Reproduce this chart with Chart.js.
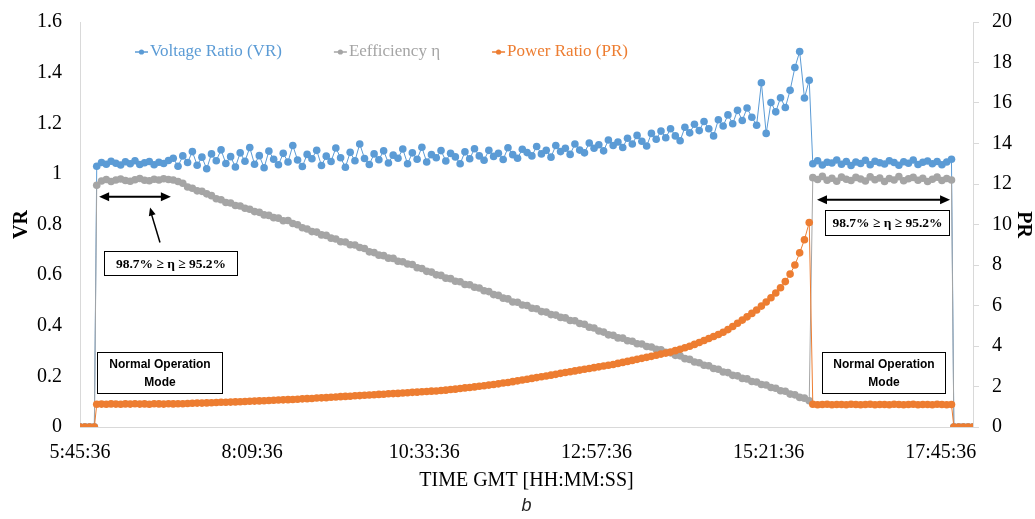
<!DOCTYPE html>
<html>
<head>
<meta charset="utf-8">
<script src="https://cdn.jsdelivr.net/npm/chart.js@4/dist/chart.umd.min.js"></script>
<style>
  html, body { margin: 0; padding: 0; background: #fff; }
  #wrap { width: 1035px; height: 519px; }
</style>
</head>
<body>
<div id="wrap"><canvas id="chart"></canvas></div>
<script>
// time axis is in minutes after 5:45:36
var tickMinutes = [0, 144, 288, 432, 576, 720];
var tickLabels = ['5:45:36', '8:09:36', '10:33:36', '12:57:36', '15:21:36', '17:45:36'];
var vrTicks = [0, 0.2, 0.4, 0.6, 0.8, 1, 1.2, 1.4, 1.6];

// sampling: zeros before the test, the test run, normal mode, zeros after
var sampleStep = 4;
var leadTimes = [0, 4, 8, 12];
var testStart = 14;
var normalStart = 613;
var tailTimes = [731, 735, 739, 743, 747];

var vrTest = [1.030,
  1.045,1.038,1.050,1.042,1.035,1.048,1.040,1.052,1.037,1.044,1.049,1.036,1.046,1.041,1.053,
  1.062,1.030,1.071,1.045,1.088,1.034,1.066,1.020,1.079,1.052,1.095,1.041,1.068,1.027,
  1.083,1.050,1.104,1.038,1.072,1.024,1.090,1.058,1.036,1.081,1.047,1.112,1.055,1.029,1.077,1.060,1.093,1.033,1.070,1.049,
  1.102,1.064,1.026,1.085,1.052,1.118,1.061,1.037,1.079,1.056,1.091,1.043,1.074,1.062,1.098,1.040,1.083,1.058,1.105,1.047,
  1.076,1.064,1.092,1.051,1.081,1.067,1.040,1.087,1.060,1.099,1.071,1.054,1.093,1.069,1.081,1.057,1.103,1.076,1.062,1.097,
  1.084,1.071,1.108,1.079,1.093,1.066,1.112,1.088,1.101,1.077,1.118,1.094,1.083,1.122,1.101,1.115,1.091,1.134,1.112,1.126,
  1.104,1.141,1.118,1.152,1.129,1.110,1.160,1.137,1.169,1.143,1.178,1.150,1.131,1.184,1.162,1.196,1.171,1.207,1.178,1.150,
  1.214,1.189,1.233,1.198,1.251,1.211,1.260,1.224,1.192,1.360,1.160,1.282,1.245,1.301,1.262,1.330,1.420,1.483,1.300,1.370];

var effTest = [0.955,
  0.972,0.978,0.970,0.976,0.980,0.974,0.971,0.977,0.982,0.975,0.973,0.979,0.976,0.981,0.978,
  0.976,0.970,0.963,0.948,0.943,0.933,0.931,0.921,0.914,0.902,0.898,0.887,0.885,0.875,
  0.873,0.864,0.860,0.851,0.848,0.838,0.836,0.827,0.825,0.815,0.816,0.804,0.799,0.787,0.782,0.772,0.770,0.759,0.757,0.746,
  0.743,0.732,0.731,0.720,0.719,0.709,0.705,0.692,0.689,0.679,0.677,0.667,0.666,0.655,0.653,0.644,0.642,0.629,0.626,0.615,
  0.612,0.601,0.599,0.588,0.586,0.576,0.574,0.563,0.562,0.552,0.549,0.538,0.535,0.523,0.520,0.509,0.506,0.494,0.493,0.482,
  0.480,0.469,0.467,0.456,0.454,0.444,0.442,0.433,0.431,0.421,0.420,0.409,0.406,0.394,0.391,0.379,0.375,0.364,0.362,0.352,
  0.351,0.341,0.339,0.329,0.328,0.318,0.316,0.307,0.305,0.295,0.293,0.283,0.281,0.270,0.267,0.257,0.254,0.244,0.242,0.231,
  0.228,0.217,0.215,0.204,0.202,0.192,0.190,0.180,0.178,0.168,0.166,0.156,0.153,0.143,0.141,0.130,0.127,0.117,0.114,0.104];

var prTest = [1.12,
  1.13,1.12,1.14,1.13,1.12,1.14,1.13,1.15,1.13,1.14,1.12,1.15,1.14,1.13,1.15,
  1.14,1.15,1.15,1.16,1.17,1.18,1.18,1.19,1.20,1.21,1.22,1.22,1.23,1.24,
  1.25,1.26,1.27,1.28,1.29,1.30,1.31,1.32,1.33,1.34,1.35,1.36,1.37,1.39,1.40,1.41,1.43,1.44,1.45,1.47,
  1.48,1.50,1.51,1.52,1.54,1.55,1.57,1.58,1.59,1.61,1.62,1.64,1.65,1.66,1.68,1.69,1.71,1.72,1.74,1.75,
  1.77,1.78,1.80,1.82,1.85,1.87,1.90,1.93,1.95,1.98,2.01,2.04,2.07,2.10,2.13,2.17,2.20,2.24,2.28,2.32,
  2.36,2.40,2.44,2.48,2.52,2.56,2.60,2.65,2.69,2.73,2.77,2.81,2.85,2.89,2.93,2.97,3.01,3.05,3.09,3.14,
  3.19,3.24,3.29,3.34,3.39,3.44,3.49,3.54,3.60,3.65,3.70,3.77,3.84,3.91,3.99,4.08,4.17,4.27,4.37,4.47,
  4.57,4.68,4.81,4.96,5.12,5.28,5.44,5.61,5.78,5.97,6.17,6.38,6.62,6.88,7.18,7.55,8.00,8.60,9.25,10.10];

var vrNormal = [1.040,1.052,1.035,1.046,1.043,1.055,1.038,1.049,1.033,1.047,1.041,1.054,1.036,1.050,1.044,
  1.039,1.052,1.045,1.034,1.048,1.042,1.055,1.037,1.046,1.051,1.040,1.049,1.036,1.047,1.058];
var effNormal = [0.985,0.978,0.990,0.975,0.983,0.971,0.987,0.979,0.974,0.986,0.980,0.972,0.988,0.977,0.984,
  0.970,0.982,0.976,0.989,0.973,0.981,0.986,0.975,0.983,0.970,0.979,0.987,0.974,0.982,0.976];
var prNormal = [1.12,1.10,1.11,1.12,1.10,1.11,1.11,1.10,1.12,1.11,1.10,1.11,1.12,1.10,1.11,
  1.11,1.10,1.12,1.11,1.10,1.11,1.12,1.10,1.11,1.11,1.10,1.12,1.11,1.10,1.11];

var times = leadTimes.concat(
  vrTest.map(function (v, i) { return testStart + i * sampleStep; }),
  vrNormal.map(function (v, i) { return normalStart + i * sampleStep; }),
  tailTimes);

function series(test, normal) {
  var zerosA = leadTimes.map(function () { return 0; });
  var zerosB = tailTimes.map(function () { return 0; });
  return zerosA.concat(test, normal, zerosB).map(function (v, i) { return { x: times[i], y: v }; });
}

var SERIF = "'Liberation Serif', 'Times New Roman', serif";
var BLUE = '#5B9BD5', GREY = '#A5A5A5', ORANGE = '#ED7D31';

function arrowHead(ctx, x, y, dx, dy, len, half) {
  var n = Math.sqrt(dx * dx + dy * dy), ux = dx / n, uy = dy / n;
  ctx.beginPath();
  ctx.moveTo(x, y);
  ctx.lineTo(x - ux * len - uy * half, y - uy * len + ux * half);
  ctx.lineTo(x - ux * len + uy * half, y - uy * len - ux * half);
  ctx.closePath();
  ctx.fill();
}

function doubleArrow(ctx, x1, x2, y) {
  ctx.lineWidth = 2;
  ctx.beginPath();
  ctx.moveTo(x1 + 6, y);
  ctx.lineTo(x2 - 6, y);
  ctx.stroke();
  arrowHead(ctx, x1, y, -1, 0, 10, 4.5);
  arrowHead(ctx, x2, y, 1, 0, 10, 4.5);
}

function textBox(ctx, x1, y1, x2, y2, lines, font, lh) {
  var l = Math.round(x1) + 0.5, t = Math.round(y1) + 0.5;
  var w = Math.round(x2 - x1), h = Math.round(y2 - y1);
  ctx.fillStyle = '#fff';
  ctx.fillRect(l, t, w, h);
  ctx.lineWidth = 1;
  ctx.strokeStyle = '#000';
  ctx.strokeRect(l, t, w, h);
  ctx.fillStyle = '#000';
  ctx.font = font;
  ctx.textAlign = 'center';
  ctx.textBaseline = 'middle';
  var cy = t + h / 2 - (lines.length - 1) * lh / 2;
  lines.forEach(function (s, k) { ctx.fillText(s, l + w / 2, cy + k * lh + 1); });
}

var notesPlugin = {
  id: 'notes',
  afterDatasetsDraw: function (chart) {
    var ctx = chart.ctx, xs = chart.scales.x, ys = chart.scales.y;
    var px = function (t) { return xs.getPixelForValue(t); };
    var py = function (v) { return ys.getPixelForValue(v); };
    ctx.save();
    ctx.strokeStyle = '#000';
    ctx.fillStyle = '#000';
    doubleArrow(ctx, px(16), px(76), py(0.91));
    doubleArrow(ctx, px(616.5), px(727.8), py(0.898));
    // pointer from the box to the left arrow
    ctx.lineWidth = 1.5;
    ctx.beginPath();
    ctx.moveTo(px(66.9), py(0.729));
    ctx.lineTo(px(59.2), py(0.85));
    ctx.stroke();
    arrowHead(ctx, px(58.6), py(0.867), px(58.6) - px(66.9), py(0.867) - py(0.729), 8, 3.5);

    var etaText = ['98.7% \u2265 \u03b7 \u2265 95.2%'];
    var etaFont = 'bold 13.5px ' + SERIF;
    textBox(ctx, px(20), py(0.694), px(131.3), py(0.599), etaText, etaFont, 16);
    textBox(ctx, px(623.2), py(0.859), px(727), py(0.761), etaText, etaFont, 16);
    var modeText = ['Normal Operation', 'Mode'];
    var sans = "bold 12px 'Liberation Sans', Arial, sans-serif";
    textBox(ctx, px(14.2), py(0.296), px(118.8), py(0.134), modeText, sans, 18);
    textBox(ctx, px(620.7), py(0.296), px(723.6), py(0.134), modeText, sans, 18);
    ctx.restore();
  },
  afterDraw: function (chart) {
    var ctx = chart.ctx, area = chart.chartArea;
    ctx.save();
    // legend inside the plot area
    ctx.font = '17px ' + SERIF;
    ctx.textBaseline = 'middle';
    ctx.textAlign = 'left';
    var x = area.left + 55, y = area.top + 30;
    chart.data.datasets.forEach(function (ds) {
      ctx.strokeStyle = ds.borderColor;
      ctx.fillStyle = ds.borderColor;
      ctx.lineWidth = 1.5;
      ctx.beginPath();
      ctx.moveTo(x, y);
      ctx.lineTo(x + 13, y);
      ctx.stroke();
      ctx.beginPath();
      ctx.arc(x + 6.5, y, 2.6, 0, Math.PI * 2);
      ctx.fill();
      ctx.fillText(ds.label, x + 15, y);
      x += 15 + ctx.measureText(ds.label).width + 52;
    });
    // panel letter
    ctx.fillStyle = '#222';
    ctx.font = "italic 18px 'Liberation Sans', Arial, sans-serif";
    ctx.textAlign = 'center';
    ctx.fillText('b', (area.left + area.right) / 2, 506);
    ctx.restore();
  }
};

new Chart(document.getElementById('chart').getContext('2d'), {
  type: 'line',
  data: {
    datasets: [{
      label: 'Voltage Ratio (VR)',
      data: series(vrTest, vrNormal),
      yAxisID: 'y',
      borderColor: BLUE,
      backgroundColor: BLUE,
      borderWidth: 1,
      pointRadius: 3.8,
      pointBorderWidth: 0,
      order: 3
    }, {
      label: 'Eefficiency \u03b7',
      data: series(effTest, effNormal),
      yAxisID: 'y',
      borderColor: GREY,
      backgroundColor: GREY,
      borderWidth: 1,
      pointRadius: 3.8,
      pointBorderWidth: 0,
      order: 2
    }, {
      label: 'Power Ratio (PR)',
      data: series(prTest, prNormal),
      yAxisID: 'y2',
      borderColor: ORANGE,
      backgroundColor: ORANGE,
      borderWidth: 1,
      pointRadius: 3.8,
      pointBorderWidth: 0,
      order: 1
    }]
  },
  options: {
    responsive: true,
    maintainAspectRatio: false,
    animation: false,
    devicePixelRatio: 1,
    layout: { padding: { top: 22, left: 0, right: 0, bottom: 26 } },
    plugins: {
      legend: { display: false },
      tooltip: { enabled: false }
    },
    scales: {
      x: {
        type: 'linear',
        min: 0,
        max: 747,
        afterBuildTicks: function (axis) {
          axis.ticks = tickMinutes.map(function (v) { return { value: v }; });
        },
        afterFit: function (axis) { axis.height = 66; },
        ticks: {
          autoSkip: false,
          maxRotation: 0,
          padding: 14,
          color: '#000',
          font: { family: SERIF, size: 20 },
          callback: function (value) {
            var k = tickMinutes.indexOf(value);
            return k < 0 ? '' : tickLabels[k];
          }
        },
        grid: { display: false, drawTicks: false },
        border: { display: true, color: '#D9D9D9' },
        title: {
          display: true,
          text: 'TIME GMT [HH:MM:SS]',
          color: '#000',
          font: { family: SERIF, size: 20 },
          padding: { top: 0, bottom: 0 }
        }
      },
      y: {
        position: 'left',
        min: 0,
        max: 1.6,
        afterBuildTicks: function (axis) {
          axis.ticks = vrTicks.map(function (v) { return { value: v }; });
        },
        afterFit: function (axis) { axis.width = 80; },
        ticks: {
          padding: 18,
          color: '#000',
          font: { family: SERIF, size: 20, lineHeight: 0.4 },
          callback: function (value) { return String(Math.round(value * 10) / 10); }
        },
        grid: { drawOnChartArea: false, drawTicks: false },
        border: { display: true, color: '#D9D9D9' },
        title: {
          display: true,
          text: 'VR',
          color: '#000',
          font: { family: SERIF, size: 20, weight: 'bold' },
          padding: { top: 10, bottom: 0 }
        }
      },
      y2: {
        position: 'right',
        min: 0,
        max: 20,
        afterFit: function (axis) { axis.width = 62; },
        ticks: {
          stepSize: 2,
          padding: 13,
          color: '#000',
          font: { family: SERIF, size: 20, lineHeight: 0.4 }
        },
        grid: { drawOnChartArea: false, drawTicks: true, tickLength: 6, color: '#D9D9D9' },
        border: { display: true, color: '#D9D9D9' },
        title: {
          display: true,
          text: 'PR',
          color: '#000',
          font: { family: SERIF, size: 20, weight: 'bold' },
          padding: { top: 0, bottom: 0 }
        }
      }
    }
  },
  plugins: [notesPlugin]
});
</script>
</body>
</html>
